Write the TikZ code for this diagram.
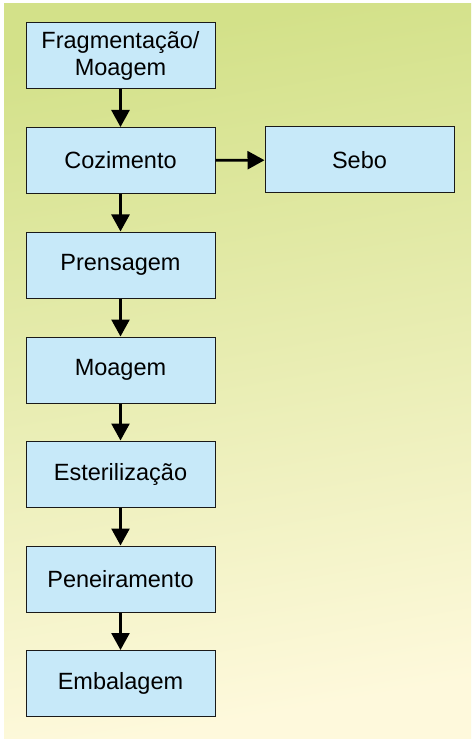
\documentclass[tikz,border=0pt]{standalone}
\usepackage{fontspec}
\setmainfont{Liberation Sans}
\usetikzlibrary{arrows.meta}
\definecolor{bgtop}{HTML}{D3E189}
\definecolor{bgbot}{HTML}{FEF9DC}
\definecolor{boxfill}{HTML}{C7E9F9}
\definecolor{boxline}{HTML}{1A1A1A}
\tikzset{
  stepbox/.style={draw=boxline, line width=1pt, fill=boxfill, minimum width=189pt, minimum height=66pt, inner sep=0pt, align=center, font=\fontsize{23.5}{27}\selectfont},
  flow/.style={line width=2.6pt, -{Triangle[length=17pt,width=18pt]}}
}
\begin{document}
\begin{tikzpicture}[x=1pt,y=-1pt]
\useasboundingbox (0,0) rectangle (472,743);
\fill[white] (0,0) rectangle (472,743);
\shade[top color=bgtop, bottom color=bgbot, shading angle=10] (4,4) rectangle (471,738);
\node[stepbox] (frag) at (120.5,56) {Fragmentação/\\Moagem};
\node[stepbox] (coz) at (120.5,160.5) {Cozimento};
\node[stepbox] (sebo) at (359.5,160) {Sebo};
\node[stepbox] (pren) at (120.5,265) {Prensagem};
\node[stepbox] (moag) at (120.5,370) {Moagem};
\node[stepbox] (est) at (120.5,474) {Esterilização};
\node[stepbox] (pen) at (120.5,579) {Peneiramento};
\node[stepbox] (emb) at (120.5,683.5) {Embalagem};
\draw[flow] (frag) -- (coz);
\draw[flow] (coz) -- (pren);
\draw[flow] (pren) -- (moag);
\draw[flow] (moag) -- (est);
\draw[flow] (est) -- (pen);
\draw[flow] (pen) -- (emb);
\draw[flow] (coz) -- (sebo);
\end{tikzpicture}
\end{document}
